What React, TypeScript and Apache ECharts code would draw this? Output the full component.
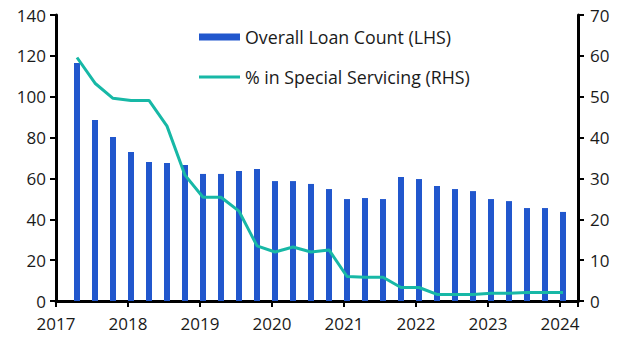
import React, { useEffect, useRef } from "react";
import * as echarts from "echarts";

const periods = [
  "2017-04", "2017-07", "2017-10", "2018-01", "2018-04", "2018-07", "2018-10",
  "2019-01", "2019-04", "2019-07", "2019-10", "2020-01", "2020-04", "2020-07",
  "2020-10", "2021-01", "2021-04", "2021-07", "2021-10", "2022-01", "2022-04",
  "2022-07", "2022-10", "2023-01", "2023-04", "2023-07", "2023-10", "2024-01",
];
const loanCount = [
  116.5, 88.6, 80.3, 72.9, 68.0, 67.5, 66.6, 62.2, 62.2, 63.6, 64.6, 58.7, 58.7, 57.3,
  54.8, 49.9, 50.4, 49.9, 60.7, 59.7, 56.3, 54.8, 53.8, 49.9, 48.9, 45.5, 45.5, 43.6,
];
const specialServicing = [
  59.6, 53.3, 49.6, 49.1, 49.1, 42.8, 30.8, 25.4, 25.4, 22.0, 13.5, 12.0, 13.2, 12.0,
  12.5, 6.0, 5.8, 5.8, 3.3, 3.3, 1.6, 1.6, 1.6, 1.9, 1.9, 2.1, 2.1, 2.1,
];
const yearTicks = [2017, 2018, 2019, 2020, 2021, 2022, 2023, 2024];
const leftTicks = [0, 20, 40, 60, 80, 100, 120, 140];
const rightTicks = [0, 10, 20, 30, 40, 50, 60, 70];

const toDecimal = (p: string) => {
  const [y, m] = p.split("-").map(Number);
  return y + (m - 1 + 0.5) / 12;
};

const BLUE = "#2157CD";
const TEAL = "#17B8A6";
const FONT = "Open Sans";
const BAR_NAME = "Overall Loan Count (LHS)";
const LINE_NAME = "% in Special Servicing (RHS)";

export default function App() {
  const ref = useRef<HTMLDivElement>(null);
  useEffect(() => {
    if (!ref.current) return;
    const chart = echarts.init(ref.current, null, { renderer: "svg" });
    const xs = periods.map(toDecimal);
    const axisCommon = {
      axisLine: { show: true, lineStyle: { color: "#000", width: 3 } },
      axisTick: { show: true, length: 6, lineStyle: { color: "#000", width: 2 } },
      splitLine: { show: false },
      axisLabel: { color: "#1a1a1a", fontSize: 17, fontFamily: FONT },
    };
    const legendText = { fontSize: 17.8, fontFamily: FONT, color: "#1a1a1a" };
    chart.setOption({
      animation: false,
      grid: { left: 56, right: 50, top: 15, bottom: 54, containLabel: false },
      legend: [
        {
          left: 199,
          top: 28,
          padding: 0,
          itemWidth: 41,
          itemHeight: 7,
          textStyle: legendText,
          data: [{ name: BAR_NAME, icon: "rect" }],
        },
        {
          left: 199,
          top: 68,
          padding: 0,
          itemWidth: 41,
          itemHeight: 3,
          textStyle: legendText,
          data: [{ name: LINE_NAME, icon: "rect", itemStyle: { color: TEAL } }],
        },
      ],
      xAxis: {
        type: "value",
        min: yearTicks[0],
        max: yearTicks[yearTicks.length - 1] + 0.25,
        interval: 1,
        ...axisCommon,
        axisLabel: {
          ...axisCommon.axisLabel,
          margin: 14,
          formatter: (v: number) => (yearTicks.includes(v) ? String(v) : ""),
        },
      },
      yAxis: [
        {
          type: "value",
          min: leftTicks[0],
          max: leftTicks[leftTicks.length - 1],
          interval: 20,
          ...axisCommon,
          axisLabel: { ...axisCommon.axisLabel, margin: 10 },
        },
        {
          type: "value",
          min: rightTicks[0],
          max: rightTicks[rightTicks.length - 1],
          interval: 10,
          position: "right",
          ...axisCommon,
          axisLabel: { ...axisCommon.axisLabel, margin: 12 },
        },
      ],
      series: [
        {
          name: BAR_NAME,
          type: "bar",
          yAxisIndex: 0,
          barWidth: 6,
          itemStyle: { color: BLUE },
          data: xs.map((x, i) => [x, loanCount[i]]),
        },
        {
          name: LINE_NAME,
          type: "line",
          yAxisIndex: 1,
          symbol: "none",
          lineStyle: { color: TEAL, width: 3 },
          itemStyle: { color: TEAL },
          data: xs.map((x, i) => [x, specialServicing[i]]),
        },
      ],
    });
    return () => chart.dispose();
  }, []);
  return <div ref={ref} style={{ width: 628, height: 355, position: "absolute", left: 0, top: 0 }} />;
}
